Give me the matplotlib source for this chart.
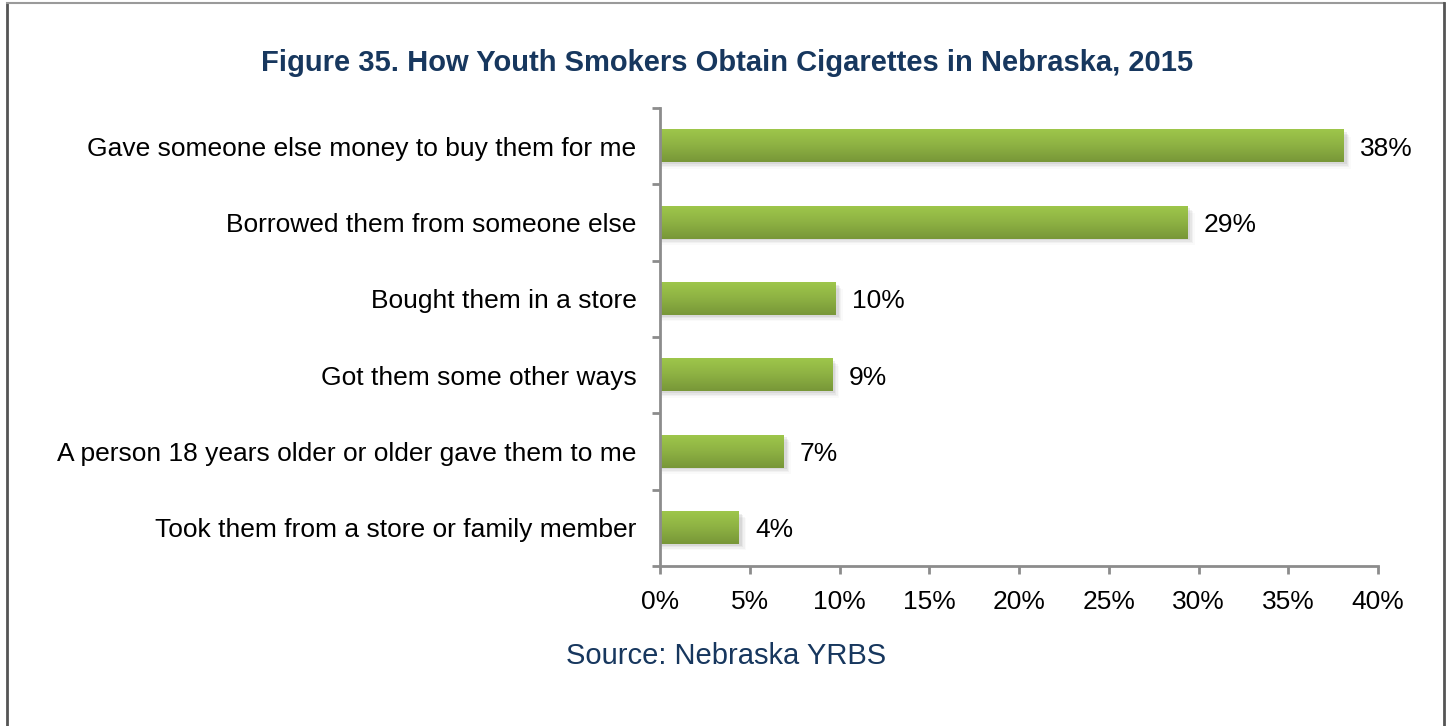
import numpy as np
import matplotlib
matplotlib.use("Agg")
import matplotlib.pyplot as plt
from matplotlib.colors import LinearSegmentedColormap
from matplotlib.lines import Line2D

plt.rcParams['font.family'] = ['Liberation Sans', 'DejaVu Sans']

categories = [
    "Gave someone else money to buy them for me",
    "Borrowed them from someone else",
    "Bought them in a store",
    "Got them some other ways",
    "A person 18 years older or older gave them to me",
    "Took them from a store or family member",
]
values = [38.1, 29.4, 9.8, 9.6, 6.9, 4.4]
value_labels = ["38%", "29%", "10%", "9%", "7%", "4%"]
xticks = [0, 5, 10, 15, 20, 25, 30, 35, 40]

title = "Figure 35. How Youth Smokers Obtain Cigarettes in Nebraska, 2015"
source = "Source: Nebraska YRBS"

navy = "#17375E"
axis_gray = "#8C8C8C"
fs = 19

fig = plt.figure(figsize=(14.5, 7.26), dpi=100)
ax = fig.add_axes([660 / 1450, 1 - 566 / 726, (1378 - 660) / 1450, (566 - 108) / 726])

n = len(categories)
ypos = np.arange(n)[::-1]  # first category at top
h = 0.42

green = LinearSegmentedColormap.from_list("g", ["#9EC64B", "#8DB143", "#789738"])
grad = np.linspace(0, 1, 64).reshape(-1, 1)

for y, v, lab in zip(ypos, values, value_labels):
    # soft shadow
    for k, a in enumerate([0.10, 0.07, 0.05, 0.03]):
        off = 0.025 + k * 0.02
        ax.add_patch(plt.Rectangle((0, y - h / 2 - off), v + 0.15 + k * 0.08, h,
                                   color="#606060", alpha=a, lw=0, zorder=1))
    ax.imshow(grad, cmap=green, aspect="auto", extent=[0, v, y - h / 2, y + h / 2],
              origin="upper", zorder=2, interpolation="bilinear")
    ax.text(v + 0.9, y, lab, va="center_baseline", ha="left", fontsize=fs, color="black")

ax.set_xlim(0, 40)
ax.set_ylim(-0.5, n - 0.5)
ax.set_xticks(xticks)
ax.set_xticklabels([f"{t}%" for t in xticks], fontsize=fs)
ax.set_yticks(ypos)
ax.set_yticklabels(categories, fontsize=fs)
ax.set_yticks(np.arange(-0.5, n, 1.0), minor=True)

for s in ["top", "right"]:
    ax.spines[s].set_visible(False)
for s in ["left", "bottom"]:
    ax.spines[s].set_color(axis_gray)
    ax.spines[s].set_linewidth(2)

ax.tick_params(axis="y", which="major", length=0, pad=17)
ax.tick_params(axis="y", which="minor", length=6, width=2, color=axis_gray)
ax.tick_params(axis="x", which="major", length=6, width=2, color=axis_gray, pad=11)

fig.text(727 / 1450, 1 - 63 / 726, title, ha="center", va="center",
         fontsize=21, fontweight="bold", color=navy)
fig.text(726 / 1450, 1 - 656 / 726, source, ha="center", va="center",
         fontsize=21, color=navy)

# outer frame (left, top, right)
fig.add_artist(Line2D([7 / 1450, 7 / 1450], [0, 1 - 3 / 726], transform=fig.transFigure,
                      color="#555555", lw=2))
fig.add_artist(Line2D([7 / 1450, 1444 / 1450], [1 - 3 / 726, 1 - 3 / 726], transform=fig.transFigure,
                      color="#9A9A9A", lw=1.5))
fig.add_artist(Line2D([1444 / 1450, 1444 / 1450], [0, 1 - 3 / 726], transform=fig.transFigure,
                      color="#555555", lw=2))

fig.savefig("out.png", dpi=100)
